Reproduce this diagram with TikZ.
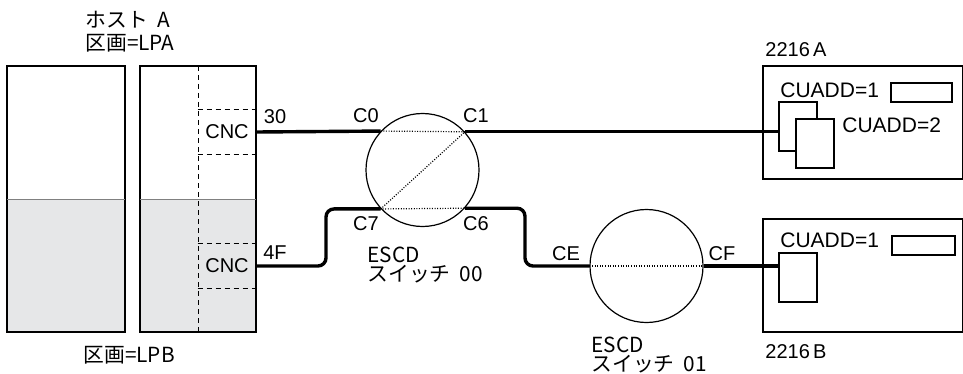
\documentclass[tikz,border=0pt]{standalone}
\usepackage{fontspec}
\setmainfont{Liberation Sans}
\newfontfamily\jpfont{Noto Sans CJK JP}
\definecolor{lpbgray}{RGB}{230,231,232}
\tikzset{
  boxline/.style={line width=0.6pt},
  link/.style={line width=1.7pt, rounded corners=4pt},
  pathdots/.style={line width=0.6pt, dash pattern=on 0.5pt off 0.8pt},
  cncdash/.style={line width=0.5pt, dash pattern=on 2.5pt off 2pt},
  switch/.style={circle, draw, line width=0.6pt, minimum size=56.5pt, inner sep=0pt},
  cubox/.style={rectangle, draw, line width=0.6pt, fill=white, minimum width=19pt, minimum height=24.5pt, inner sep=0pt},
  lbl/.style={inner sep=0pt, font=\fontsize{10}{12}\selectfont},
  culbl/.style={inner sep=0pt, anchor=west, font=\fontsize{10.5}{12}\selectfont},
  jplbl/.style={inner sep=0pt, anchor=west, font=\jpfont\fontsize{10.4}{12}\selectfont}
}
\begin{document}
\begin{tikzpicture}[x=0.5pt,y=-0.5pt]
	\useasboundingbox (0,0) rectangle (963,374);
	% Draw host A, lower half is LPB
	\fill[lpbgray] (7,199) rectangle (125,332);
	\fill[lpbgray] (140,199) rectangle (256,332);
	\draw[boxline] (7,66) rectangle (125,332);
	\draw[boxline] (140,66) rectangle (256,332);
	\draw[line width=0.4pt, gray] (7,199) -- (125,199);
	\draw[line width=0.4pt, gray] (140,199) -- (256,199);
	\draw[cncdash] (198,66) -- (198,332);

	% Draw channels
	\node[lbl] (cncA) at (227,132) [minimum width=29pt, minimum height=22pt] {CNC};
	\node[lbl] (cncB) at (227,266) [minimum width=29pt, minimum height=22pt] {CNC};
	\draw[cncdash] (cncA.north west) -- (cncA.north east);
	\draw[cncdash] (cncA.south west) -- (cncA.south east);
	\draw[cncdash] (cncB.north west) -- (cncB.north east);
	\draw[cncdash] (cncB.south west) -- (cncB.south east);

	% Draw switches
	\node[switch] (sw00) at (422.5,170) {};
	\node[switch] (sw01) at (646.5,266) {};
	\draw[pathdots] (sw00.137.7) -- (sw00.42.3) -- (sw00.-137.7) -- (sw00.-42.3);
	\draw[pathdots] (sw01.west) -- (sw01.east);

	% Draw control units
	\draw[boxline] (763,66) rectangle (963,179);
	\draw[boxline] (763,219) rectangle (963,332);
	\draw[boxline] (891,83) rectangle (952,102);
	\draw[boxline] (892,236) rectangle (955,255);
	\node[cubox] (cuA1) at (798,126.5) {};
	\node[cubox] (cuA2) at (815,143.5) {};
	\node[cubox] (cuB) at (798,277.5) {};

	% Draw links
	\coordinate (bendL) at (326,237);
	\coordinate (bendR) at (525,237);
	\draw[link] (cncA.east) -- (sw00.137.7);
	\draw[link] (sw00.42.3) -- (sw00.42.3 -| cuA1.west);
	\draw[link] (cncB.east) -| (bendL) |- (sw00.-137.7);
	\draw[link] (sw00.-42.3) -| (bendR) |- (sw01.west);
	\draw[link] (sw01.east) -- (sw01.east -| cuB.west);

	% Labels
	\node[jplbl] (hostA) at (85,20) {ホスト\ \ A};
	\node[jplbl] (lpa) at (85,43) {区画=LPA};
	\node[jplbl] (lpb) at (83,355) {区画=LPB};
	\node[lbl] (p30) at (275,117) {30};
	\node[lbl] (p4F) at (275,253) {4F};
	\node[lbl] (pC0) at (366,116) {C0};
	\node[lbl] (pC1) at (476,116) {C1};
	\node[lbl] (pC7) at (366,224) {C7};
	\node[lbl] (pC6) at (476,224) {C6};
	\node[lbl] (pCE) at (566,254) {CE};
	\node[lbl] (pCF) at (722,254) {CF};
	\node[jplbl] (escdA) at (367,255) {ESCD};
	\node[jplbl] (swA) at (367,274) {スイッチ\ \ 00};
	\node[jplbl] (escdB) at (591,345) {ESCD};
	\node[jplbl] (swB) at (591,364) {スイッチ\ \ 01};
	\node[lbl] (cu2216A) at (796,49.5) {2216\,A};
	\node[lbl] (cu2216B) at (796,352) {2216\,B};
	\node[culbl] (cuaddA1) at (780,90) {CUADD=1};
	\node[culbl] (cuaddA2) at (842,125) {CUADD=2};
	\node[culbl] (cuaddB1) at (780,240) {CUADD=1};
\end{tikzpicture}
\end{document}
